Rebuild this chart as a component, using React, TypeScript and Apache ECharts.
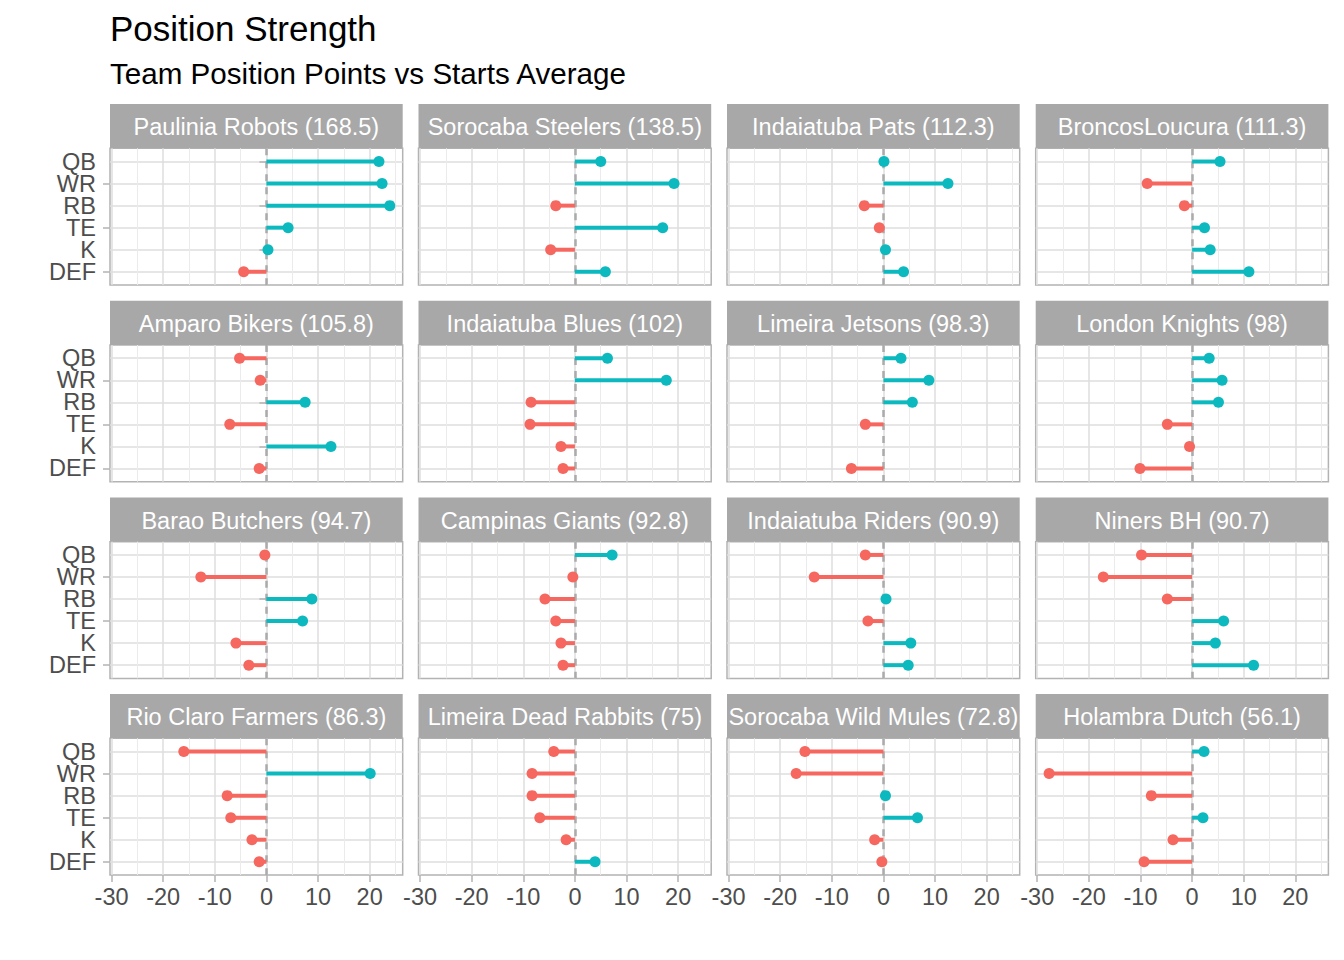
import React, { useEffect, useRef } from "react";
import * as echarts from "echarts";

const POSITIONS = ["QB", "WR", "RB", "TE", "K", "DEF"];

const TEAMS = [
  "Paulinia Robots (168.5)",
  "Sorocaba Steelers (138.5)",
  "Indaiatuba Pats (112.3)",
  "BroncosLoucura (111.3)",
  "Amparo Bikers (105.8)",
  "Indaiatuba Blues (102)",
  "Limeira Jetsons (98.3)",
  "London Knights (98)",
  "Barao Butchers (94.7)",
  "Campinas Giants (92.8)",
  "Indaiatuba Riders (90.9)",
  "Niners BH (90.7)",
  "Rio Claro Farmers (86.3)",
  "Limeira Dead Rabbits (75)",
  "Sorocaba Wild Mules (72.8)",
  "Holambra Dutch (56.1)",
];

// values per position: QB, WR, RB, TE, K, DEF
const pauliniaRobots = [21.8, 22.4, 23.9, 4.2, 0.3, -4.4];
const sorocabaSteelers = [5.0, 19.2, -3.7, 17.0, -4.7, 5.9];
const indaiatubaPats = [0.1, 12.5, -3.7, -0.8, 0.4, 3.9];
const broncosLoucura = [5.4, -8.7, -1.5, 2.4, 3.5, 11.0];
const amparoBikers = [-5.2, -1.2, 7.5, -7.1, 12.5, -1.4];
const indaiatubaBlues = [6.3, 17.7, -8.5, -8.7, -2.7, -2.3];
const limeiraJetsons = [3.4, 8.8, 5.6, -3.5, null, -6.2];
const londonKnights = [3.3, 5.8, 5.1, -4.8, -0.5, -10.1];
const baraoButchers = [-0.3, -12.7, 8.8, 7.0, -5.9, -3.4];
const campinasGiants = [7.2, -0.4, -5.8, -3.7, -2.7, -2.3];
const indaiatubaRiders = [-3.5, -13.4, 0.5, -3.0, 5.3, 4.8];
const ninersBH = [-9.8, -17.2, -4.8, 6.1, 4.5, 11.9];
const rioClaroFarmers = [-16.0, 20.1, -7.6, -6.9, -2.8, -1.4];
const limeiraDeadRabbits = [-4.1, -8.3, -8.3, -6.8, -1.7, 3.9];
const sorocabaWildMules = [-15.2, -16.9, 0.4, 6.6, -1.7, -0.3];
const holambraDutch = [2.3, -27.7, -7.9, 2.1, -3.7, -9.3];

const TEAM_VALUES: (number | null)[][] = [
  pauliniaRobots, sorocabaSteelers, indaiatubaPats, broncosLoucura,
  amparoBikers, indaiatubaBlues, limeiraJetsons, londonKnights,
  baraoButchers, campinasGiants, indaiatubaRiders, ninersBH,
  rioClaroFarmers, limeiraDeadRabbits, sorocabaWildMules, holambraDutch,
];

const X_MAJOR = [-30, -20, -10, 0, 10, 20];
const X_MINOR = [-25, -15, -5, 5, 15, 25];
const X_MIN = -30.3;
const X_MAX = 26.4;
const Y_MIN = 0.4;
const Y_MAX = 6.6;

const RED = "#F5675F";
const TEAL = "#0CB9BE";
const FONT = "'Liberation Sans', Arial, Helvetica, sans-serif";

const PANEL_LEFTS = [110, 418.5, 727, 1035.7];
const PANEL_W = 292.7;
const STRIP_TOPS = [104, 300.7, 497.4, 694];
const STRIP_H = 44.3;
const PANEL_H = 136.7;

function buildOption() {
  const grids: any[] = [];
  const xAxes: any[] = [];
  const yAxes: any[] = [];
  const series: any[] = [];
  const graphics: any[] = [
    {
      type: "text",
      x: 110,
      y: 28,
      style: { text: "Position Strength", fontSize: 35, fontFamily: FONT, fill: "#000", textAlign: "left", textVerticalAlign: "middle" },
    },
    {
      type: "text",
      x: 110,
      y: 73,
      style: { text: "Team Position Points vs Starts Average", fontSize: 29.6, fontFamily: FONT, fill: "#000", textAlign: "left", textVerticalAlign: "middle" },
    },
  ];

  const yTicks = POSITIONS.map((_, k) => k + 1);
  const yOdd = yTicks.filter((_, k) => k % 2 === 0);
  const yEven = yTicks.filter((_, k) => k % 2 === 1);
  const posLabel = (v: number) => POSITIONS[Math.round(v) - 1] ?? "";

  TEAMS.forEach((team, i) => {
    const row = Math.floor(i / 4);
    const col = i % 4;
    const left = PANEL_LEFTS[col];
    const stripTop = STRIP_TOPS[row];
    const top = stripTop + STRIP_H;
    const bottomRow = row === 3;
    const firstCol = col === 0;

    graphics.push({
      type: "rect",
      shape: { x: left, y: stripTop, width: PANEL_W, height: STRIP_H },
      style: { fill: "#A8A8A8" },
    });
    graphics.push({
      type: "text",
      x: left + PANEL_W / 2,
      y: stripTop + STRIP_H / 2 + 1,
      style: { text: team, fontSize: 23.5, fontFamily: FONT, fill: "#FFFFFF", textAlign: "center", textVerticalAlign: "middle" },
    });

    grids.push({
      left,
      top,
      width: PANEL_W,
      height: PANEL_H,
      show: true,
      backgroundColor: "#FFFFFF",
      borderColor: "#B3B3B3",
      borderWidth: 1.5,
    });

    const xIndex = xAxes.length;
    xAxes.push({
      type: "value",
      gridIndex: i,
      min: X_MIN,
      max: X_MAX,
      position: "bottom",
      axisLine: { show: false },
      axisTick: { show: bottomRow, customValues: X_MAJOR, length: 7, lineStyle: { color: "#B3B3B3", width: 1.5 } },
      axisLabel: {
        show: bottomRow,
        customValues: X_MAJOR,
        showMinLabel: true,
        showMaxLabel: true,
        margin: 10,
        fontSize: 23.5,
        fontFamily: FONT,
        color: "#4D4D4D",
        formatter: (v: number) => String(v),
      },
      splitLine: { show: true, lineStyle: { color: "#DEDEDE", width: 1.5 } },
    });
    xAxes.push({
      type: "value",
      gridIndex: i,
      min: X_MIN,
      max: X_MAX,
      position: "top",
      axisLine: { show: false },
      axisTick: { show: false, customValues: X_MINOR },
      axisLabel: { show: false, customValues: X_MINOR },
      splitLine: { show: true, lineStyle: { color: "#EBEBEB", width: 1 } },
    });

    const yIndex = yAxes.length;
    yAxes.push({
      type: "value",
      gridIndex: i,
      min: Y_MIN,
      max: Y_MAX,
      inverse: true,
      position: "left",
      axisLine: { show: false },
      axisTick: { show: false, customValues: yTicks },
      axisLabel: { show: false, customValues: yTicks },
      splitLine: { show: true, lineStyle: { color: "#DEDEDE", width: 1.5 } },
    });

    if (firstCol) {
      [yOdd, yEven].forEach((vals) => {
        yAxes.push({
          type: "value",
          gridIndex: i,
          min: Y_MIN,
          max: Y_MAX,
          inverse: true,
          position: "left",
          offset: 0,
          axisLine: { show: false },
          axisTick: { show: true, customValues: vals, length: 7, lineStyle: { color: "#B3B3B3", width: 1.5 } },
          axisLabel: {
            show: true,
            customValues: vals,
            showMinLabel: true,
            showMaxLabel: true,
            margin: 14,
            fontSize: 23.5,
            fontFamily: FONT,
            color: "#4D4D4D",
            formatter: posLabel,
          },
          splitLine: { show: false },
        });
      });
    }

    const data = TEAM_VALUES[i]
      .map((v, k) => (v == null ? null : [v, k + 1]))
      .filter((d) => d != null);

    series.push({
      type: "custom",
      xAxisIndex: xIndex,
      yAxisIndex: yIndex,
      z: 2,
      silent: true,
      encode: { x: 0, y: 1 },
      data,
      renderItem: (params: any, api: any) => {
        const v = api.value(0);
        const y = api.value(1);
        const p0 = api.coord([0, y]);
        const p1 = api.coord([v, y]);
        return {
          type: "line",
          shape: { x1: p0[0], y1: p0[1], x2: p1[0], y2: p1[1] },
          style: { stroke: v < 0 ? RED : TEAL, lineWidth: 4, lineCap: "butt" },
        };
      },
    });
    series.push({
      type: "scatter",
      xAxisIndex: xIndex,
      yAxisIndex: yIndex,
      z: 4,
      silent: true,
      symbol: "circle",
      symbolSize: 11,
      data,
      itemStyle: { color: (p: any) => (p.value[0] < 0 ? RED : TEAL), opacity: 1 },
      markLine: {
        silent: true,
        symbol: "none",
        z: 1,
        label: { show: false },
        lineStyle: { color: "#ABABAB", width: 2.5, type: [7, 6], opacity: 1 },
        data: [{ xAxis: 0 }],
      },
    });
  });

  return {
    animation: false,
    backgroundColor: "#FFFFFF",
    textStyle: { fontFamily: FONT },
    grid: grids,
    xAxis: xAxes,
    yAxis: yAxes,
    series,
    graphic: graphics,
  };
}

export default function App() {
  const ref = useRef<HTMLDivElement>(null);
  useEffect(() => {
    if (!ref.current) return;
    const chart = echarts.init(ref.current, undefined, { renderer: "svg" });
    chart.setOption(buildOption());
    return () => chart.dispose();
  }, []);
  return (
    <div
      ref={ref}
      style={{ position: "fixed", left: 0, top: 0, width: 1344, height: 960, background: "#FFFFFF" }}
    />
  );
}
